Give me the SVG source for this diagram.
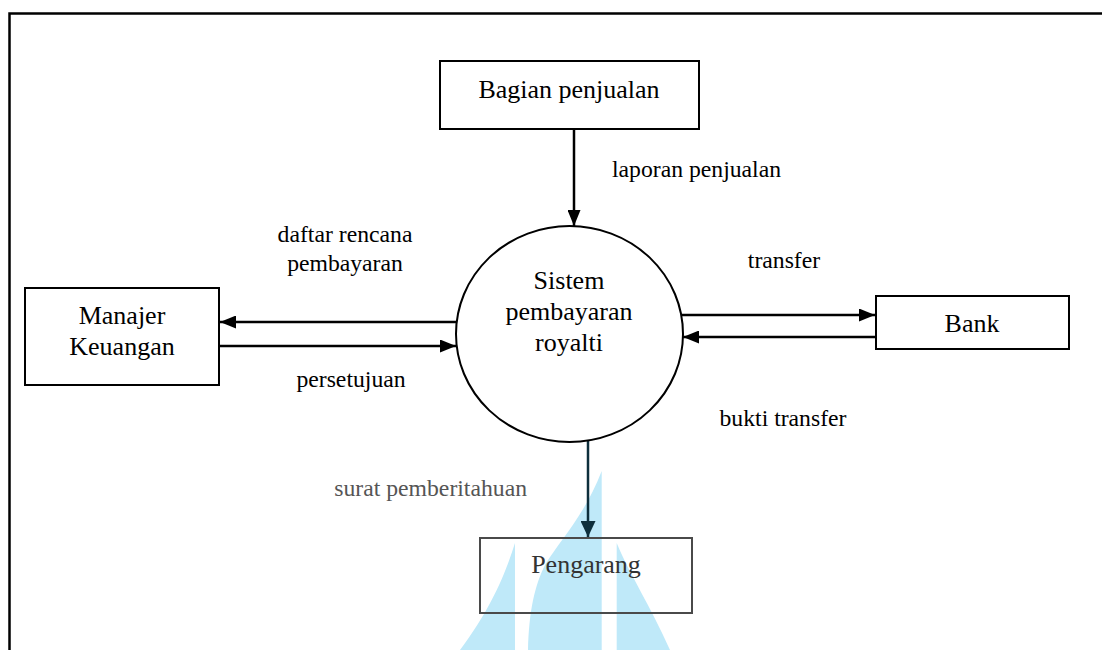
<svg xmlns="http://www.w3.org/2000/svg" width="1102" height="650" viewBox="0 0 1102 650">
<style>
.box{fill:none;stroke:#000;stroke-width:2}
.nt{font-family:'Liberation Serif','DejaVu Serif',serif;font-size:26px;fill:#000;text-anchor:middle}
.lb{font-family:'Liberation Serif','DejaVu Serif',serif;font-size:23.7px;fill:#000;text-anchor:middle}
.cn{fill:none;stroke:#000;stroke-width:2.5}
.wm{fill:#bfe9f9}
</style>
<defs>
<marker id="ah" markerUnits="userSpaceOnUse" markerWidth="16" markerHeight="13" refX="16" refY="6.5" orient="auto">
<path d="M0,0 L16,6.5 L0,13 z" fill="#000"/>
</marker>
<marker id="ah2" markerUnits="userSpaceOnUse" markerWidth="16" markerHeight="15" refX="16" refY="7.5" orient="auto">
<path d="M0,0 L16,7.5 L0,15 z" fill="#0e2f3c"/>
</marker>
</defs>
<rect x="0" y="0" width="1102" height="650" fill="#fff"/>
<rect x="9.5" y="13.5" width="1110" height="700" fill="none" stroke="#000" stroke-width="2.5"/>
<g id="watermark">
<path class="wm" d="M601.7,471 L601.7,650 L528,650 C529,610 535,585 545,565 C560,540 585,515 601.7,471 z"/>
<path class="wm" d="M616.7,543 C630,575 650,605 670,650 L616.7,650 z"/>
<path class="wm" d="M515,543 C505,575 490,610 460,650 L515,650 z"/>
</g>
<g id="connectors">
<line class="cn" x1="574" y1="129" x2="574" y2="226" marker-end="url(#ah)"/>
<line class="cn" x1="457" y1="322" x2="220" y2="322" marker-end="url(#ah)"/>
<line class="cn" x1="219" y1="346" x2="456" y2="346" marker-end="url(#ah)"/>
<line class="cn" x1="682" y1="315" x2="875" y2="315" marker-end="url(#ah)"/>
<line class="cn" x1="876" y1="337" x2="683" y2="337" marker-end="url(#ah)"/>
<line x1="588" y1="441" x2="588" y2="537" stroke="#0e2f3c" stroke-width="2.5" marker-end="url(#ah2)"/>
<text class="lb" x="612" y="177" text-anchor="start" style="text-anchor:start">laporan penjualan</text>
<text class="lb" x="345" y="242">daftar rencana</text>
<text class="lb" x="345" y="271">pembayaran</text>
<text class="lb" x="351" y="387">persetujuan</text>
<text class="lb" x="784" y="268">transfer</text>
<text class="lb" x="783" y="426">bukti transfer</text>
<text class="lb" x="527" y="496" style="text-anchor:end;fill:#555">surat pemberitahuan</text>
</g>
<g id="bagian-penjualan">
<rect class="box" x="440" y="61" width="259" height="68" fill="#fff"/>
<text class="nt" x="569" y="98">Bagian penjualan</text>
</g>
<g id="sistem">
<ellipse cx="569.5" cy="334" rx="113.5" ry="108" fill="#fff" stroke="#000" stroke-width="2"/>
<text class="nt" x="569" y="289">Sistem</text>
<text class="nt" x="569" y="320">pembayaran</text>
<text class="nt" x="569" y="351">royalti</text>
</g>
<g id="manajer-keuangan">
<rect class="box" x="25" y="288" width="194" height="97"/>
<text class="nt" x="122" y="324">Manajer</text>
<text class="nt" x="122" y="355">Keuangan</text>
</g>
<g id="bank">
<rect class="box" x="876" y="296" width="193" height="53"/>
<text class="nt" x="972" y="332">Bank</text>
</g>
<g id="pengarang">
<rect x="480" y="538" width="212" height="75" fill="none" stroke="#4a4a4a" stroke-width="2"/>
<text class="nt" x="586" y="573" style="fill:#333">Pengarang</text>
</g>
</svg>
